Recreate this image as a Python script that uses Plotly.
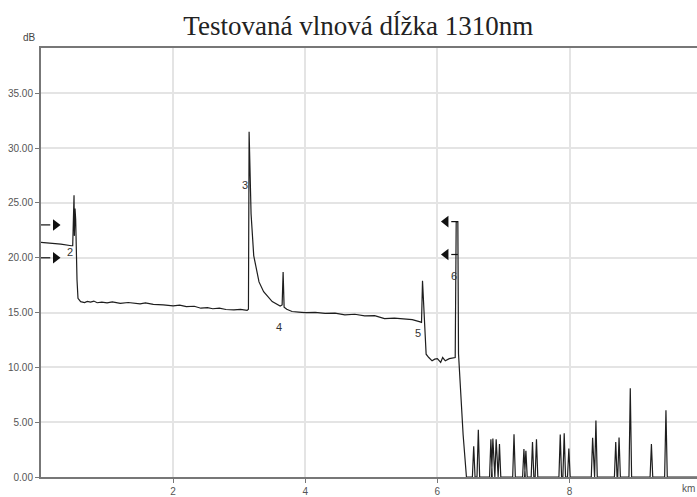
import plotly.graph_objects as go

# OTDR trace, 1310 nm: distance (km) vs. level (dB)
trace_km = [
    0.00, 0.15, 0.30, 0.46, 0.48, 0.50, 0.505, 0.515, 0.525, 0.545, 0.56,
    0.60, 0.66, 0.70, 0.75, 0.80, 0.85, 0.92, 1.00, 1.08, 1.20, 1.32, 1.50, 1.58,
    1.70, 1.85, 2.00, 2.10, 2.20, 2.32, 2.42, 2.52, 2.60, 2.70, 2.80, 2.92, 3.02, 3.12,
    3.14, 3.15, 3.18, 3.22, 3.30, 3.37, 3.50, 3.62, 3.65, 3.665, 3.68, 3.72, 3.80,
    3.90, 4.00, 4.15, 4.30, 4.45, 4.60, 4.75, 4.90, 5.05, 5.20, 5.35, 5.50, 5.62, 5.74,
    5.76, 5.775, 5.785, 5.80, 5.83, 5.87, 5.92, 5.96, 6.00, 6.05, 6.08, 6.12, 6.18, 6.27,
    6.285, 6.31, 6.32, 6.39, 6.44,
]
trace_db = [
    21.40, 21.35, 21.25, 21.10, 21.10, 25.70, 22.00, 24.50, 23.50, 18.00, 16.30,
    16.00, 15.92, 16.02, 15.95, 16.05, 15.90, 15.96, 15.88, 15.98, 15.85, 15.92, 15.80, 15.88,
    15.75, 15.70, 15.62, 15.68, 15.55, 15.58, 15.40, 15.45, 15.35, 15.40, 15.28, 15.25, 15.30, 15.20,
    15.30, 31.50, 24.00, 20.20, 17.80, 16.90, 16.00, 15.60, 15.70, 18.70, 15.50, 15.30, 15.10,
    15.05, 15.00, 15.02, 14.92, 14.95, 14.80, 14.85, 14.70, 14.72, 14.45, 14.50, 14.40, 14.35, 14.15,
    14.10, 17.90, 16.50, 14.00, 11.20, 10.90, 10.60, 10.75, 10.80, 10.45, 10.90, 10.60, 10.80, 10.90,
    23.30, 23.30, 11.25, 3.84, 0.00,
]

# Noise peaks past the fibre end (km, dB)
noise_km = [6.55, 6.62, 6.81, 6.84, 6.89, 6.94, 7.16, 7.31, 7.34, 7.44, 7.50,
            7.86, 7.92, 7.99, 8.35, 8.40, 8.70, 8.75, 8.92, 9.24, 9.46]
noise_db = [2.8, 4.3, 3.45, 3.5, 3.45, 3.0, 3.9, 2.56, 2.4, 3.2, 3.45,
            3.87, 4.0, 2.6, 3.57, 5.15, 3.2, 3.6, 8.1, 3.0, 6.1]
trace_end_km = 9.93

# Event labels (number, km, dB position of the label)
event_names = ["2", "3", "4", "5", "6"]
event_km = [0.44, 3.09, 3.60, 5.70, 6.25]
event_db = [20.5, 26.6, 13.7, 13.1, 18.3]

# Cursor arrows (km of the stem ends, dB level)
right_cursor_db = [23.0, 20.0]
left_cursor_db = [23.3, 20.3]
right_cursor_km = (0.0, 0.22)
left_cursor_km = (6.31, 6.13)

y_ticks = [0, 5, 10, 15, 20, 25, 30, 35]
x_ticks = [2, 4, 6, 8]

# Build the full polyline: measured part, then the noise floor with its peaks
xs = list(trace_km)
ys = list(trace_db)
half_w = 0.02
for k, d in zip(noise_km, noise_db):
    xs += [k - half_w, k, k + half_w]
    ys += [0.0, d, 0.0]
xs.append(trace_end_km)
ys.append(0.0)

fig = go.Figure()
fig.add_trace(go.Scatter(x=xs, y=ys, mode="lines",
                         line=dict(color="#1e1e1e", width=1.2),
                         hoverinfo="skip", showlegend=False))

# Cursor arrows
for lvl in right_cursor_db:
    fig.add_trace(go.Scatter(x=[right_cursor_km[0], right_cursor_km[1] - 0.08], y=[lvl, lvl],
                             mode="lines", line=dict(color="#111", width=1.2),
                             showlegend=False, hoverinfo="skip"))
    fig.add_trace(go.Scatter(x=[right_cursor_km[1]], y=[lvl], mode="markers",
                             marker=dict(symbol="triangle-right", size=10, color="#111"),
                             showlegend=False, hoverinfo="skip"))
for lvl in left_cursor_db:
    fig.add_trace(go.Scatter(x=[left_cursor_km[0], left_cursor_km[1] + 0.08], y=[lvl, lvl],
                             mode="lines", line=dict(color="#111", width=1.2),
                             showlegend=False, hoverinfo="skip"))
    fig.add_trace(go.Scatter(x=[left_cursor_km[1]], y=[lvl], mode="markers",
                             marker=dict(symbol="triangle-left", size=10, color="#111"),
                             showlegend=False, hoverinfo="skip"))

for name, k, d in zip(event_names, event_km, event_db):
    fig.add_annotation(x=k, y=d, text=name, showarrow=False,
                       font=dict(family="Liberation Sans, Arial", size=11, color="#333"))

fig.add_annotation(xref="paper", yref="paper", x=-0.0305, y=1.0, yanchor="bottom",
                   yshift=3, text="dB", showarrow=False,
                   font=dict(family="Liberation Sans, Arial", size=10, color="#444"))
fig.add_annotation(x=trace_end_km, y=0, xanchor="right", yanchor="top", yshift=-4,
                   text="km", showarrow=False,
                   font=dict(family="Liberation Sans, Arial", size=10, color="#555"))

fig.update_layout(
    width=697, height=497,
    margin=dict(l=41, r=0, t=48, b=11),
    paper_bgcolor="white", plot_bgcolor="white",
    title=dict(text="Testovaná vlnová dĺžka 1310nm", x=0.514, xanchor="center",
               y=1 - 26 / 497, yanchor="middle",
               font=dict(family="Liberation Serif, Times New Roman", size=27, color="#222")),
    xaxis=dict(range=[0, trace_end_km], tickvals=x_ticks, ticktext=[str(v) for v in x_ticks],
               showgrid=True, gridcolor="#e4e4e4", gridwidth=1.5,
               showline=True, linecolor="#777", linewidth=2, mirror=True,
               ticks="outside", ticklen=4, tickcolor="#777",
               tickfont=dict(family="Liberation Sans, Arial", size=10, color="#555"),
               zeroline=False, fixedrange=True),
    yaxis=dict(range=[0, 39.14], tickvals=y_ticks, tickformat=".2f",
               showgrid=True, gridcolor="#e4e4e4", gridwidth=1.5,
               showline=True, linecolor="#777", linewidth=2,
               ticks="outside", ticklen=4, tickcolor="#777",
               tickfont=dict(family="Liberation Sans, Arial", size=10, color="#555"),
               zeroline=False, fixedrange=True),
)

fig.write_html("out.html")
